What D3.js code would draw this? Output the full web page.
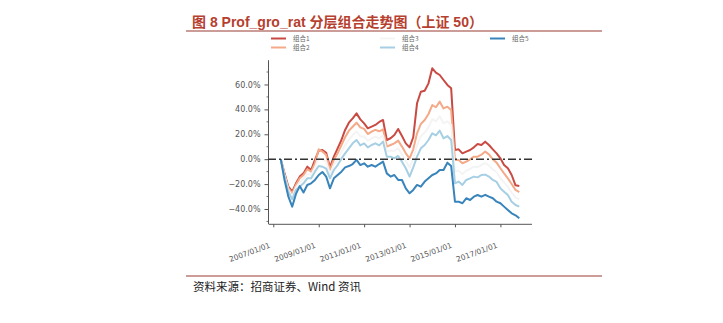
<!DOCTYPE html>
<html>
<head>
<meta charset="utf-8">
<script src="https://cdn.jsdelivr.net/npm/d3@7"></script>
<style>
  html, body { margin: 0; padding: 0; background: #ffffff; }
  svg { display: block; }
</style>
</head>
<body>
<svg id="chart" width="723" height="323"></svg>
<script>
// Month stamps (bi-monthly) of the portfolio net value curves
const dates = [
  "2007-05","2007-07","2007-09","2007-11","2008-01","2008-03","2008-05","2008-07","2008-09","2008-11",
  "2009-01","2009-03","2009-05","2009-07","2009-09","2009-11","2010-01","2010-03","2010-05","2010-07",
  "2010-09","2010-11","2011-01","2011-03","2011-05","2011-07","2011-09","2011-11","2012-01","2012-03",
  "2012-05","2012-07","2012-09","2012-11","2013-01","2013-03","2013-05","2013-07","2013-09","2013-11",
  "2014-01","2014-03","2014-05","2014-07","2014-09","2014-11","2015-01","2015-03","2015-05","2015-07",
  "2015-09","2015-11","2016-01","2016-03","2016-05","2016-07","2016-09","2016-11","2017-01","2017-03",
  "2017-05","2017-07","2017-09","2017-11"
];

// Cumulative return (%) of each layered portfolio
const group1 = [
  0, -11.4, -22.1, -26.0, -19.4, -14.0, -11.4, -6.0, -8.7, -0.6,
  6.9, 7.4, 5.2, -6.6, 2.0, 8.7, 15.4, 23.5, 29.3, 32.8,
  36.8, 32.0, 28.8, 24.8, 26.1, 27.5, 29.9, 31.5, 15.4, 16.8,
  19.4, 24.3, 18.6, 12.7, 9.5, 17.6, 44.9, 54.2, 55.0, 60.9,
  73.0, 69.5, 67.6, 63.6, 59.6, 56.9, 7.4, 7.9, 4.7, 6.1,
  7.4, 9.5, 12.2, 11.4, 14.1, 11.4, 7.9, 4.7, 0.7, -4.7,
  -7.3, -12.7, -21.0, -21.5
];
const group2 = [
  0, -12.7, -23.4, -27.4, -20.7, -15.4, -12.7, -8.1, -10.0, -3.3,
  7.9, 6.1, 3.4, -8.7, -0.6, 4.7, 11.4, 17.6, 22.9, 26.1,
  29.3, 25.6, 24.3, 20.2, 22.1, 23.5, 22.4, 24.0, 10.1, 11.4,
  12.7, 14.9, 10.1, 4.7, 0.7, 7.9, 20.8, 28.3, 31.5, 36.3,
  43.5, 41.7, 46.2, 40.8, 42.2, 39.5, -0.6, -0.6, -3.3, -2.0,
  -0.1, 2.0, 2.0, 3.6, 6.1, 3.9, -0.1, -2.8, -7.3, -11.4,
  -15.4, -19.9, -24.7, -26.4
];
const group3 = [
  0, -13.4, -24.8, -29.8, -22.7, -18.8, -16.0, -11.8, -12.7, -6.7,
  1.2, 0.0, -2.1, -12.0, -4.6, 0.0, 5.9, 11.1, 15.8, 19.4,
  22.3, 18.3, 18.5, 14.8, 16.7, 18.1, 16.7, 19.0, 6.0, 6.7,
  6.7, 8.7, 4.0, -1.3, -6.6, 0.6, 11.4, 18.5, 21.4, 25.8,
  32.1, 30.4, 34.5, 28.8, 30.4, 27.4, -10.0, -9.3, -12.0, -9.3,
  -7.7, -6.0, -6.3, -4.5, -3.2, -5.0, -8.4, -10.5, -15.3, -18.7,
  -22.1, -27.0, -30.7, -32.2
];
const group4 = [
  0, -14.0, -26.1, -32.2, -24.7, -22.1, -19.4, -15.4, -15.4, -10.0,
  -5.5, -6.0, -7.6, -15.4, -8.7, -4.7, 0.4, 4.7, 8.7, 12.7,
  15.4, 11.1, 12.7, 9.5, 11.4, 12.7, 11.1, 14.1, 2.0, 2.0,
  0.7, 2.6, -2.0, -7.3, -14.0, -6.6, 2.0, 8.7, 11.4, 15.4,
  20.8, 19.2, 22.9, 16.8, 18.6, 15.4, -19.4, -18.0, -20.7, -16.7,
  -15.4, -14.0, -14.6, -12.7, -12.4, -14.0, -16.7, -18.3, -23.4, -26.1,
  -28.8, -34.1, -36.8, -38.1
];
const group5 = [
  0, -16.7, -30.1, -38.1, -27.9, -21.6, -26.8, -20.7, -19.4, -16.7,
  -12.7, -10.3, -14.0, -23.4, -15.4, -12.7, -10.0, -6.6, -5.5, -3.9,
  -0.6, -4.7, -3.3, -6.0, -4.7, -6.0, -3.9, -2.0, -11.4, -14.0,
  -12.7, -16.7, -16.7, -23.4, -27.4, -24.7, -20.7, -22.1, -18.0, -15.4,
  -12.7, -11.4, -8.7, -8.7, -2.8, -5.5, -34.1, -34.1, -35.4, -31.4,
  -32.8, -30.1, -28.8, -30.1, -28.6, -30.1, -31.4, -34.1, -35.4, -38.1,
  -40.8, -43.5, -45.1, -47.5
];

const seriesNames = ["组合1", "组合2", "组合3", "组合4", "组合5"];
const seriesValues = [group1, group2, group3, group4, group5];

const yTickValues = [-40, -20, 0, 20, 40, 60];
const yMinorValues = [-50, -30, -10, 10, 30, 50, 70];
const xTickLabels = ["2007/01/01", "2009/01/01", "2011/01/01", "2013/01/01", "2015/01/01", "2017/01/01"];

const titleText = "图 8 Prof_gro_rat 分层组合走势图（上证 50）";
const sourceText = "资料来源：招商证券、Wind 资讯";

// RdBu-style diverging palette, one colour per portfolio
const palette = ["#c94a42", "#f4aa88", "#f4f4f4", "#a6cfe4", "#3884bb"];

const svg = d3.select("#chart");
const latin = "'Liberation Sans', 'Noto Sans CJK SC', sans-serif";
const cjk = "'Noto Sans CJK SC', 'Liberation Sans', sans-serif";

// ----- header -----
svg.append("text")
  .attr("x", 192).attr("y", 26.5)
  .attr("font-family", latin)
  .attr("font-size", 14)
  .attr("font-weight", "bold")
  .attr("fill", "#b63f2f")
  .text(titleText);

svg.append("line")
  .attr("x1", 186).attr("x2", 602)
  .attr("y1", 31).attr("y2", 31)
  .attr("stroke", "#9a3a32").attr("stroke-width", 1.2);

// ----- footer -----
svg.append("line")
  .attr("x1", 186).attr("x2", 602)
  .attr("y1", 276).attr("y2", 276)
  .attr("stroke", "#9a3a32").attr("stroke-width", 1.2);

svg.append("text")
  .attr("x", 193).attr("y", 291)
  .attr("font-family", cjk)
  .attr("font-size", 11.5)
  .attr("fill", "#222")
  .text(sourceText);

// ----- scales -----
const parseMonth = d3.utcParse("%Y-%m");
const parseDay = d3.utcParse("%Y/%m/%d");

const x = d3.scaleUtc()
  .domain([new Date(Date.UTC(2006, 9, 24)), new Date(Date.UTC(2018, 4, 24))])
  .range([269, 532]);

const y = d3.scaleLinear()
  .domain([-52.3, 79.5])
  .range([224.3, 60.2]);

const axisColor = "#555";
const tickFont = "'DejaVu Sans', sans-serif";

// ----- y axis -----
const yAxisG = svg.append("g").attr("transform", "translate(268.5,0)");
yAxisG.append("line")
  .attr("x1", 0).attr("x2", 0)
  .attr("y1", y.range()[1]).attr("y2", y.range()[0])
  .attr("stroke", axisColor).attr("stroke-width", 1);

yAxisG.call(
  d3.axisLeft(y)
    .tickValues(yTickValues)
    .tickSize(4)
    .tickPadding(4)
    .tickFormat(d => d3.format(".1f")(d) + "%")
);
yAxisG.select(".domain").remove();
yAxisG.selectAll(".tick line").attr("stroke", axisColor);
yAxisG.selectAll(".tick text")
  .attr("font-family", tickFont)
  .attr("font-size", 8)
  .attr("fill", "#555");

yAxisG.selectAll(".minor")
  .data(yMinorValues)
  .join("line")
  .attr("class", "minor")
  .attr("x1", -2).attr("x2", 0)
  .attr("y1", d => y(d)).attr("y2", d => y(d))
  .attr("stroke", axisColor).attr("stroke-width", 0.8);

// ----- x axis -----
const xAxisG = svg.append("g").attr("transform", "translate(0,224.3)");
xAxisG.append("line")
  .attr("x1", x.range()[0]).attr("x2", x.range()[1])
  .attr("y1", 0).attr("y2", 0)
  .attr("stroke", axisColor).attr("stroke-width", 1);

const xTickDates = xTickLabels.map(s => parseDay(s));
xAxisG.call(
  d3.axisBottom(x)
    .tickValues(xTickDates)
    .tickSize(3)
    .tickFormat((d, i) => xTickLabels[i])
);
xAxisG.select(".domain").remove();
xAxisG.selectAll(".tick line").attr("stroke", axisColor);
xAxisG.selectAll(".tick text")
  .attr("font-family", tickFont)
  .attr("font-size", 7.5)
  .attr("fill", "#555")
  .attr("text-anchor", "end")
  .attr("dy", null)
  .attr("y", null)
  .attr("transform", "translate(-3,23) rotate(-20)");

// ----- series lines -----
const line = d3.line()
  .x(d => x(d.date))
  .y(d => y(d.value));

const parsedDates = dates.map(parseMonth);
const series = seriesNames.map((name, i) => ({
  name,
  color: palette[i],
  points: seriesValues[i].map((v, j) => ({ date: parsedDates[j], value: v }))
}));

svg.append("g")
  .selectAll("path")
  .data(series)
  .join("path")
  .attr("d", d => line(d.points))
  .attr("fill", "none")
  .attr("stroke", d => d.color)
  .attr("stroke-width", 2)
  .attr("stroke-linejoin", "round");

// zero reference line
svg.append("line")
  .attr("x1", 268).attr("x2", 533)
  .attr("y1", y(0)).attr("y2", y(0))
  .attr("stroke", "#333")
  .attr("stroke-width", 1.4)
  .attr("stroke-dasharray", "8,3,2,3");

// ----- legend -----
const legendPos = [
  { tx: 293, ty: 38.5 },
  { tx: 293, ty: 47.5 },
  { tx: 402, ty: 38.5 },
  { tx: 402, ty: 47.5 },
  { tx: 512, ty: 38.5 }
];
const legend = svg.append("g")
  .selectAll("g")
  .data(series)
  .join("g")
  .attr("transform", (d, i) => `translate(${legendPos[i].tx},${legendPos[i].ty})`);

legend.append("line")
  .attr("x1", -22).attr("x2", -7)
  .attr("y1", 0).attr("y2", 0)
  .attr("stroke", d => d.color)
  .attr("stroke-width", 2);

legend.append("text")
  .attr("x", 0).attr("y", 0)
  .attr("dy", "0.35em")
  .attr("font-family", cjk)
  .attr("font-size", 6.5)
  .attr("fill", "#666")
  .text(d => d.name);
</script>
</body>
</html>
